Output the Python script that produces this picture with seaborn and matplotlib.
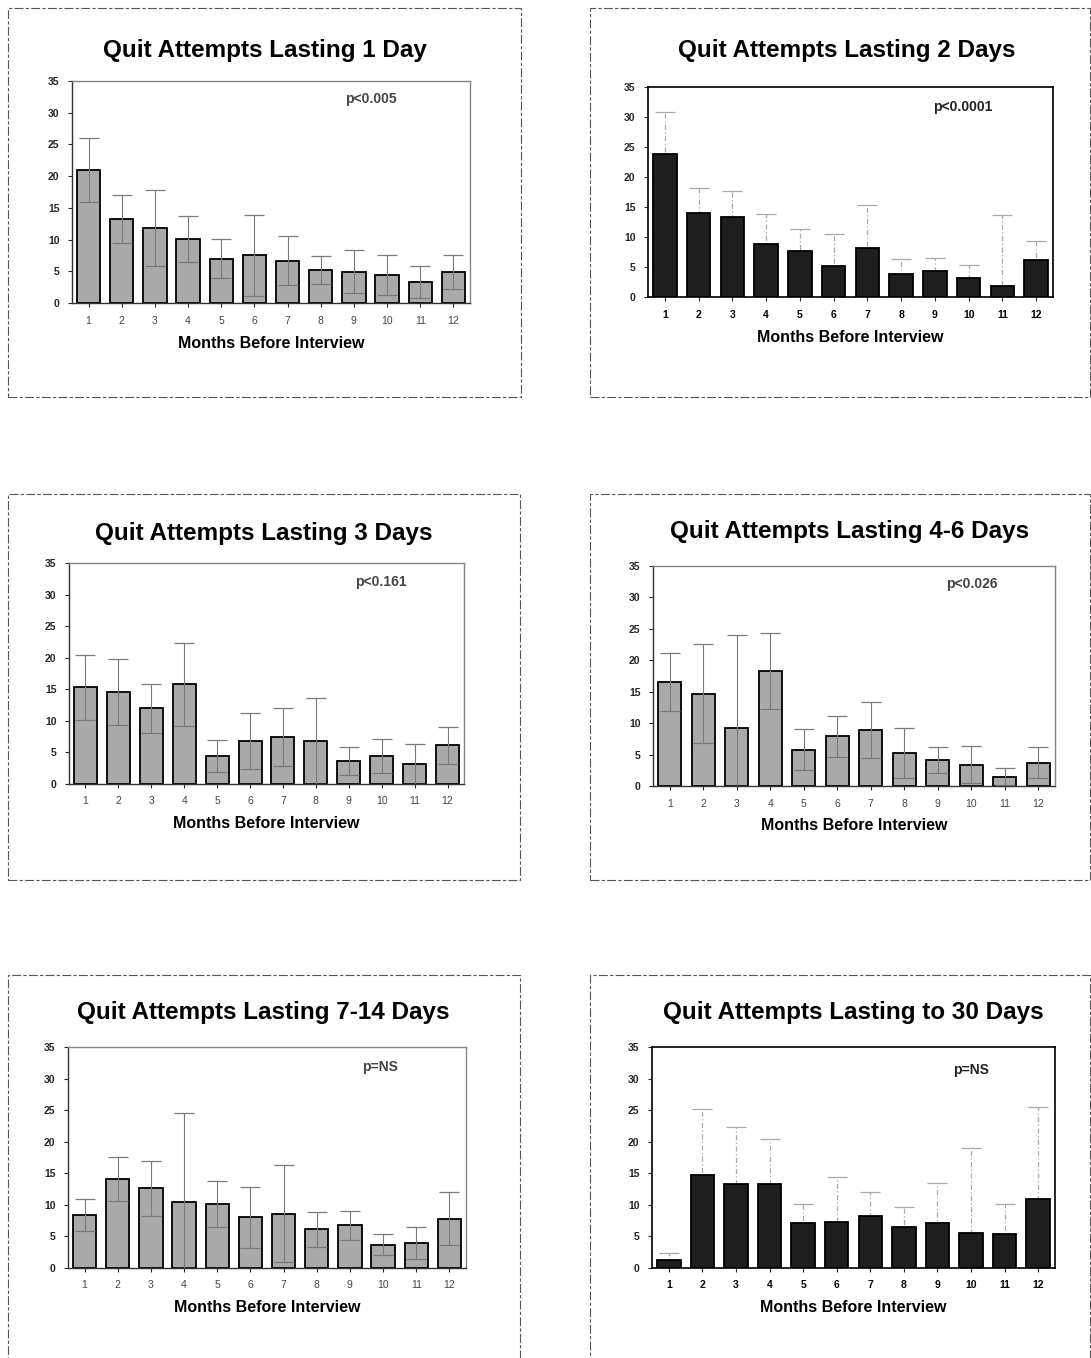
import numpy as np
import pandas as pd
import matplotlib
matplotlib.use("Agg")
import matplotlib.pyplot as plt
import seaborn as sns
from matplotlib.patches import Rectangle

sns.set_theme(style="white")
plt.rcParams['font.family'] = ['Liberation Sans', 'DejaVu Sans']

months = [str(i) for i in range(1, 13)]
y_ticks = [0, 5, 10, 15, 20, 25, 30, 35]

titles = ["Quit Attempts Lasting 1 Day", "Quit Attempts Lasting 2 Days",
          "Quit Attempts Lasting 3 Days", "Quit Attempts Lasting 4-6 Days",
          "Quit Attempts Lasting 7-14 Days", "Quit Attempts Lasting to 30 Days"]
p_labels = ["p<0.005", "p<0.0001", "p<0.161", "p<0.026", "p=NS", "p=NS"]
x_label = "Months Before Interview"

vals_1day = [21.0, 13.3, 11.8, 10.1, 7.0, 7.5, 6.7, 5.2, 4.9, 4.4, 3.3, 4.9]
err_1day = [5.0, 3.8, 6.0, 3.6, 3.1, 6.4, 3.9, 2.2, 3.4, 3.2, 2.5, 2.7]

vals_2days = [23.8, 14.0, 13.4, 8.8, 7.7, 5.1, 8.2, 3.8, 4.4, 3.2, 1.9, 6.1]
err_2days = [7.1, 4.2, 4.2, 5.0, 3.6, 5.4, 7.2, 2.5, 2.1, 2.2, 11.8, 3.2]

vals_3days = [15.3, 14.6, 12.0, 15.8, 4.4, 6.8, 7.4, 6.8, 3.7, 4.4, 3.1, 6.1]
err_3days = [5.1, 5.2, 3.9, 6.6, 2.5, 4.4, 4.6, 6.8, 2.2, 2.7, 3.2, 3.0]

vals_4_6days = [16.6, 14.7, 9.2, 18.3, 5.8, 7.9, 8.9, 5.3, 4.1, 3.4, 1.5, 3.7]
err_4_6days = [4.6, 7.9, 14.9, 6.0, 3.2, 3.3, 4.5, 4.0, 2.1, 2.9, 1.3, 2.5]

vals_7_14days = [8.4, 14.1, 12.6, 10.5, 10.1, 8.0, 8.6, 6.1, 6.8, 3.7, 4.0, 7.8]
err_7_14days = [2.5, 3.5, 4.4, 14.1, 3.6, 4.9, 7.7, 2.7, 2.3, 1.7, 2.5, 4.2]

vals_30days = [1.3, 14.8, 13.3, 13.3, 7.1, 7.3, 8.2, 6.5, 7.2, 5.6, 5.4, 10.9]
err_30days = [1.1, 10.4, 9.1, 7.1, 3.1, 7.1, 3.8, 3.1, 6.3, 13.4, 4.8, 14.6]

series = [(vals_1day, err_1day), (vals_2days, err_2days), (vals_3days, err_3days),
          (vals_4_6days, err_4_6days), (vals_7_14days, err_7_14days),
          (vals_30days, err_30days)]
dark = [False, True, False, False, False, True]

W, H = 1091, 1358
fig = plt.figure(figsize=(W / 100, H / 100), dpi=100)
fig.patch.set_facecolor("white")

def fx(x):
    return x / W

def fy(y):
    return 1 - y / H

axes_px = [(72, 81, 470, 303), (648, 87, 1053, 297), (69, 563, 464, 784),
           (653, 566, 1055, 786), (68, 1047, 466, 1268), (652, 1047, 1055, 1268)]
frames_px = [(8, 8, 521, 397), (590, 8, 1090, 397), (8, 494, 520, 880),
             (590, 494, 1090, 880), (8, 975, 520, 1362), (590, 975, 1090, 1362)]
title_y = [50, 51, 534, 532, 1013, 1012]
title_x = [265, 847, 264, 850, 263, 853]
xlabel_y = [343, 338, 824, 826, 1308, 1308]
p_pos = [(371, 99), (963, 107), (381, 582), (972, 584), (380, 1067), (971, 1070)]

for i, ((vals, errs), is_dark) in enumerate(zip(series, dark)):
    l, t, r, b = axes_px[i]
    ax = fig.add_axes([fx(l), fy(b), fx(r - l), (b - t) / H])
    df = pd.DataFrame({"month": months, "value": vals})
    face = "#1e1e1e" if is_dark else "#a9a9a9"
    sns.barplot(data=df, x="month", y="value", ax=ax, color=face, width=0.7,
                edgecolor="black", linewidth=1.3, saturation=1, errorbar=None)
    for p in ax.patches:
        p.set_facecolor(face)
        p.set_zorder(2)
    vals_a = np.array(vals)
    errs_a = np.array(errs)
    lower = np.minimum(errs_a, vals_a)
    xs = np.arange(len(vals))
    if is_dark:
        eb = ax.errorbar(xs, vals_a, yerr=[lower, errs_a], fmt="none",
                         ecolor="#a8a8a8", elinewidth=0.9, capsize=7, capthick=0.9,
                         zorder=1)
        for line in eb[2]:
            line.set_linestyle((0, (4, 2, 1, 2)))
    else:
        ax.errorbar(xs, vals_a, yerr=[lower, errs_a], fmt="none",
                    ecolor="#7a7a7a", elinewidth=0.8, capsize=7, capthick=0.9,
                    zorder=3)
    ax.set_ylim(0, 35)
    ax.set_xlim(-0.5, 11.5)
    ax.set_yticks(y_ticks)
    ax.set_yticklabels([str(v) for v in y_ticks], fontsize=7.5, fontweight="bold")
    ax.set_xticks(xs)
    ax.set_xticklabels(months, fontsize=7.5,
                       fontweight="bold" if is_dark else "normal",
                       color="black" if is_dark else "#444444")
    ax.tick_params(axis="y", which="both", left=True, length=3, width=0.8, pad=6)
    ax.tick_params(axis="x", which="both", bottom=True, length=3, width=0.8, pad=6)
    ax.set_xlabel("")
    ax.set_ylabel("")
    spine_col = "black" if is_dark else "#7d8a7d"
    for name, sp in ax.spines.items():
        sp.set_visible(True)
        sp.set_color(spine_col)
        sp.set_linewidth(1.2 if is_dark else 1.0)
        sp.set_zorder(4)
    ax.spines["bottom"].set_color("#333333" if not is_dark else "black")
    ax.spines["left"].set_color("#333333" if not is_dark else "black")
    ax.set_facecolor("white")

    fig.text(fx(title_x[i]), fy(title_y[i]), titles[i], ha="center", va="center",
             fontsize=17.5, fontweight="bold", color="black")
    fig.text(fx((l + r) / 2), fy(xlabel_y[i]), x_label, ha="center", va="center",
             fontsize=11.5, fontweight="bold", color="black")
    fig.text(fx(p_pos[i][0]), fy(p_pos[i][1]), p_labels[i], ha="center", va="center",
             fontsize=10, fontweight="bold", color="#222222" if is_dark else "#444444")

    fl, ft, fr, fb = frames_px[i]
    rect = Rectangle((fx(fl), fy(fb)), fx(fr - fl), (fb - ft) / H,
                     transform=fig.transFigure, fill=False, edgecolor="#555555",
                     linewidth=0.8, linestyle=(0, (8, 2, 3, 2)))
    fig.add_artist(rect)

fig.savefig("out.png", dpi=100, facecolor="white")
